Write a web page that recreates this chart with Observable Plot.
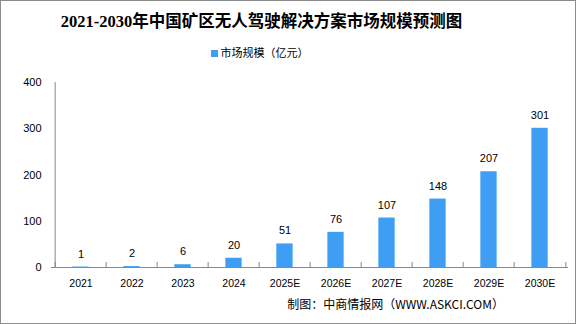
<!DOCTYPE html>
<html>
<head>
<meta charset="utf-8">
<script src="https://cdn.jsdelivr.net/npm/d3@7"></script>
<script src="https://cdn.jsdelivr.net/npm/@observablehq/plot@0.6"></script>
<style>
  html, body { margin: 0; padding: 0; background: #fff; }
  #wrap { position: relative; width: 576px; height: 324px; overflow: hidden; background: #fff;
          font-family: "Liberation Sans", "Noto Sans CJK SC", sans-serif; color: #000; }
  #border { position: absolute; left: 0; top: 0; width: 576px; height: 324px; box-sizing: border-box;
            border: 1px solid #8c8c8c; pointer-events: none; }
  #title { position: absolute; left: 0; top: 10px; width: 523px; text-align: center;
           font-family: "Liberation Serif", "Noto Sans CJK SC", serif; font-weight: bold;
           font-size: 16.5px; line-height: 24px; }
  #legend { position: absolute; left: 0; top: 44px; width: 519px; text-align: center;
            font-size: 11px; line-height: 16px; font-family: "Noto Sans CJK SC", sans-serif; }
  #legend .sw { display: inline-block; width: 7px; height: 7px; background: #3e9ef3;
                margin-right: 3px; vertical-align: 0px; }
  #chart { position: absolute; left: 0; top: 66px; }
  #caption { position: absolute; right: 72px; top: 295px; font-size: 12px; line-height: 18px;
             font-family: "Noto Sans CJK SC", sans-serif; }
</style>
</head>
<body>
<div id="wrap">
  <div id="title"></div>
  <div id="legend"></div>
  <div id="chart"></div>
  <div id="caption"></div>
  <div id="border"></div>
</div>
<script>
const titleText = "2021-2030年中国矿区无人驾驶解决方案市场规模预测图";
const seriesName = "市场规模（亿元）";
const captionText = "制图：中商情报网（WWW.ASKCI.COM）";
const categories = ["2021", "2022", "2023", "2024", "2025E", "2026E", "2027E", "2028E", "2029E", "2030E"];
const values = [1, 2, 6, 20, 51, 76, 107, 148, 207, 301];
const yTicks = [0, 100, 200, 300, 400];
const barColor = "#3e9ef3";
const axisColor = "#888888";

document.getElementById("title").textContent = titleText;
document.getElementById("legend").innerHTML = '<span class="sw"></span>' + seriesName;
document.getElementById("caption").textContent = captionText;

const data = categories.map((c, i) => ({year: c, value: values[i]}));

const W = 576, H = 230, mL = 51, mR = 8, mT = 16, mB = 29;
const bw = (W - mL - mR) / categories.length;
const barW = 17;
const inset = (bw - barW) / 2;

const chart = Plot.plot({
  width: W,
  height: H,
  marginLeft: mL,
  marginRight: mR,
  marginTop: mT,
  marginBottom: mB,
  style: {fontFamily: "Liberation Sans, sans-serif", fontSize: "10px", color: "#000", background: "transparent"},
  x: {domain: categories, padding: 0},
  y: {domain: [0, 400]},
  marks: [
    Plot.barY(data, {x: "year", y: "value", fill: barColor, insetLeft: inset, insetRight: inset}),
    Plot.ruleY([0], {stroke: axisColor, strokeWidth: 1}),
    Plot.ruleX([categories[0]], {x: d => d, dx: -bw / 2, y1: 0, y2: 400, stroke: axisColor}),
    Plot.ruleX(categories, {x: d => d, dx: -bw / 2, y1: 0, y2: 0, insetTop: -5, stroke: axisColor}),
    Plot.ruleX([categories[categories.length - 1]], {x: d => d, dx: bw / 2, y1: 0, y2: 0, insetTop: -5, stroke: axisColor}),
    Plot.text(data, {x: "year", y: "value", text: d => String(d.value), dy: -13, fontSize: 11, fill: "#000"}),
    Plot.axisX({tickSize: 0, tickPadding: 12, fontSize: 10.5, label: null}),
    Plot.axisY({ticks: yTicks, tickSize: 0, tickPadding: 10, fontSize: 11, label: null})
  ]
});
document.getElementById("chart").appendChild(chart);
</script>
</body>
</html>
